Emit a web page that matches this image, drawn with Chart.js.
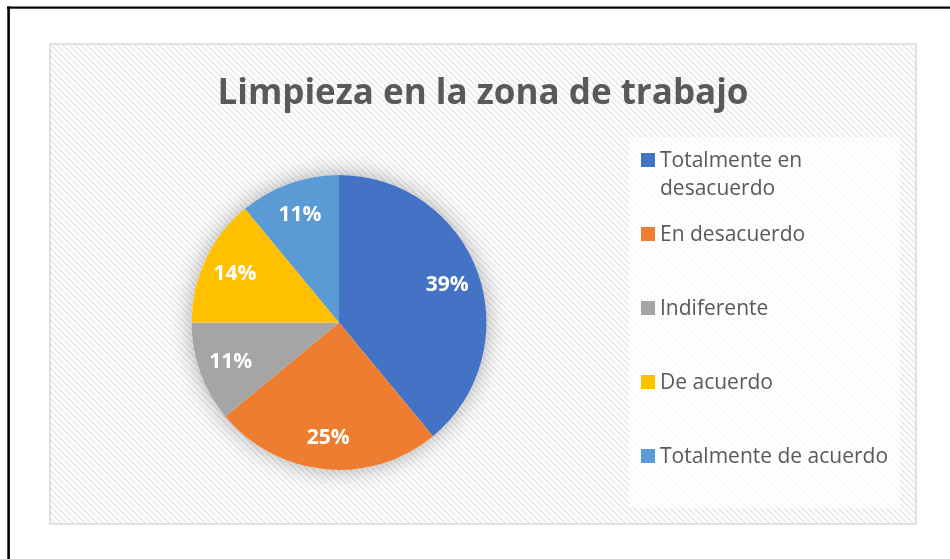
<!DOCTYPE html>
<html><head><meta charset="utf-8">
<script src="https://cdn.jsdelivr.net/npm/chart.js@4/dist/chart.umd.min.js"></script>
<style>html,body{margin:0;padding:0;background:#fff;overflow:hidden}</style>
</head><body>
<canvas id="c" width="950" height="559"></canvas>
<script>
const chartTitle = 'Limpieza en la zona de trabajo';
const categories = ['Totalmente en desacuerdo', 'En desacuerdo', 'Indiferente', 'De acuerdo', 'Totalmente de acuerdo'];
const legendLines = [['Totalmente en', 'desacuerdo'], ['En desacuerdo'], ['Indiferente'], ['De acuerdo'], ['Totalmente de acuerdo']];
const percentages = [39, 25, 11, 14, 11];
const sliceColors = ['#4472C4', '#ED7D31', '#A5A5A5', '#FFC000', '#5B9BD5'];

const FONT = '"Open Sans", "Liberation Sans", sans-serif';

function makeHatch(ctx) {
  const p = document.createElement('canvas');
  p.width = 6; p.height = 6;
  const g = p.getContext('2d');
  g.fillStyle = '#ffffff';
  g.fillRect(0, 0, 6, 6);
  g.strokeStyle = '#eaeaea';
  g.lineWidth = 1.8;
  g.beginPath();
  g.moveTo(-1, -1); g.lineTo(7, 7);
  g.moveTo(-7, -1); g.lineTo(1, 7);
  g.moveTo(5, -1); g.lineTo(13, 7);
  g.stroke();
  return ctx.createPattern(p, 'repeat');
}

const framePlugin = {
  id: 'frame',
  beforeDraw(chart) {
    const ctx = chart.ctx;
    ctx.save();
    ctx.fillStyle = '#ffffff';
    ctx.fillRect(0, 0, 950, 559);
    // outer black frame (left & top)
    ctx.fillStyle = '#000000';
    ctx.fillRect(7, 6.5, 943, 2.2);
    ctx.fillRect(7.3, 6.5, 2.6, 553);
    // hatched plot background
    ctx.fillStyle = makeHatch(ctx);
    ctx.fillRect(50, 44, 866, 480);
    ctx.strokeStyle = '#d9d9d9';
    ctx.lineWidth = 1.5;
    ctx.strokeRect(50, 44, 866, 480);
    // legend box
    ctx.fillStyle = 'rgba(255,255,255,0.75)';
    ctx.fillRect(629, 137, 271, 371);
    // title
    ctx.fillStyle = '#595959';
    ctx.font = 'bold 35px ' + FONT;
    ctx.textAlign = 'center';
    ctx.textBaseline = 'alphabetic';
    ctx.fillText(chartTitle, 483, 104);
    ctx.restore();
  },
  beforeDatasetsDraw(chart) {
    const arc = chart.getDatasetMeta(0).data[0];
    if (!arc) return;
    const ctx = chart.ctx;
    ctx.save();
    ctx.shadowColor = 'rgba(0,0,0,0.32)';
    ctx.shadowBlur = 22;
    ctx.fillStyle = '#ffffff';
    ctx.beginPath();
    ctx.arc(arc.x, arc.y, arc.outerRadius, 0, Math.PI * 2);
    ctx.fill();
    ctx.restore();
  },
  afterDatasetsDraw(chart) {
    const ctx = chart.ctx;
    const meta = chart.getDatasetMeta(0);
    ctx.save();
    ctx.fillStyle = '#ffffff';
    ctx.font = 'bold 21px ' + FONT;
    ctx.textAlign = 'center';
    ctx.textBaseline = 'middle';
    meta.data.forEach((a, i) => {
      const mid = (a.startAngle + a.endAngle) / 2;
      const r = a.outerRadius * 0.78;
      ctx.fillText(percentages[i] + '%', a.x + Math.cos(mid) * r, a.y + Math.sin(mid) * r + 1);
    });
    ctx.restore();
  },
  afterDraw(chart) {
    const ctx = chart.ctx;
    ctx.save();
    ctx.font = '21px ' + FONT;
    ctx.textAlign = 'left';
    ctx.textBaseline = 'alphabetic';
    legendLines.forEach((lines, i) => {
      const base = 167 + 74 * i;
      ctx.fillStyle = sliceColors[i];
      ctx.fillRect(641, base - 14, 14, 14);
      ctx.fillStyle = '#595959';
      lines.forEach((ln, j) => ctx.fillText(ln, 660, base + 28 * j));
    });
    ctx.restore();
  }
};

new Chart(document.getElementById('c'), {
  type: 'pie',
  data: {
    labels: categories,
    datasets: [{
      data: percentages,
      backgroundColor: sliceColors,
      borderWidth: 0,
      hoverOffset: 0,
      offset: 0
    }]
  },
  options: {
    responsive: false,
    animation: false,
    events: [],
    layout: { padding: { left: 191.5, right: 463.5, top: 175, bottom: 89 } },
    plugins: {
      legend: { display: false },
      title: { display: false },
      tooltip: { enabled: false }
    }
  },
  plugins: [framePlugin]
});
</script>
</body></html>
